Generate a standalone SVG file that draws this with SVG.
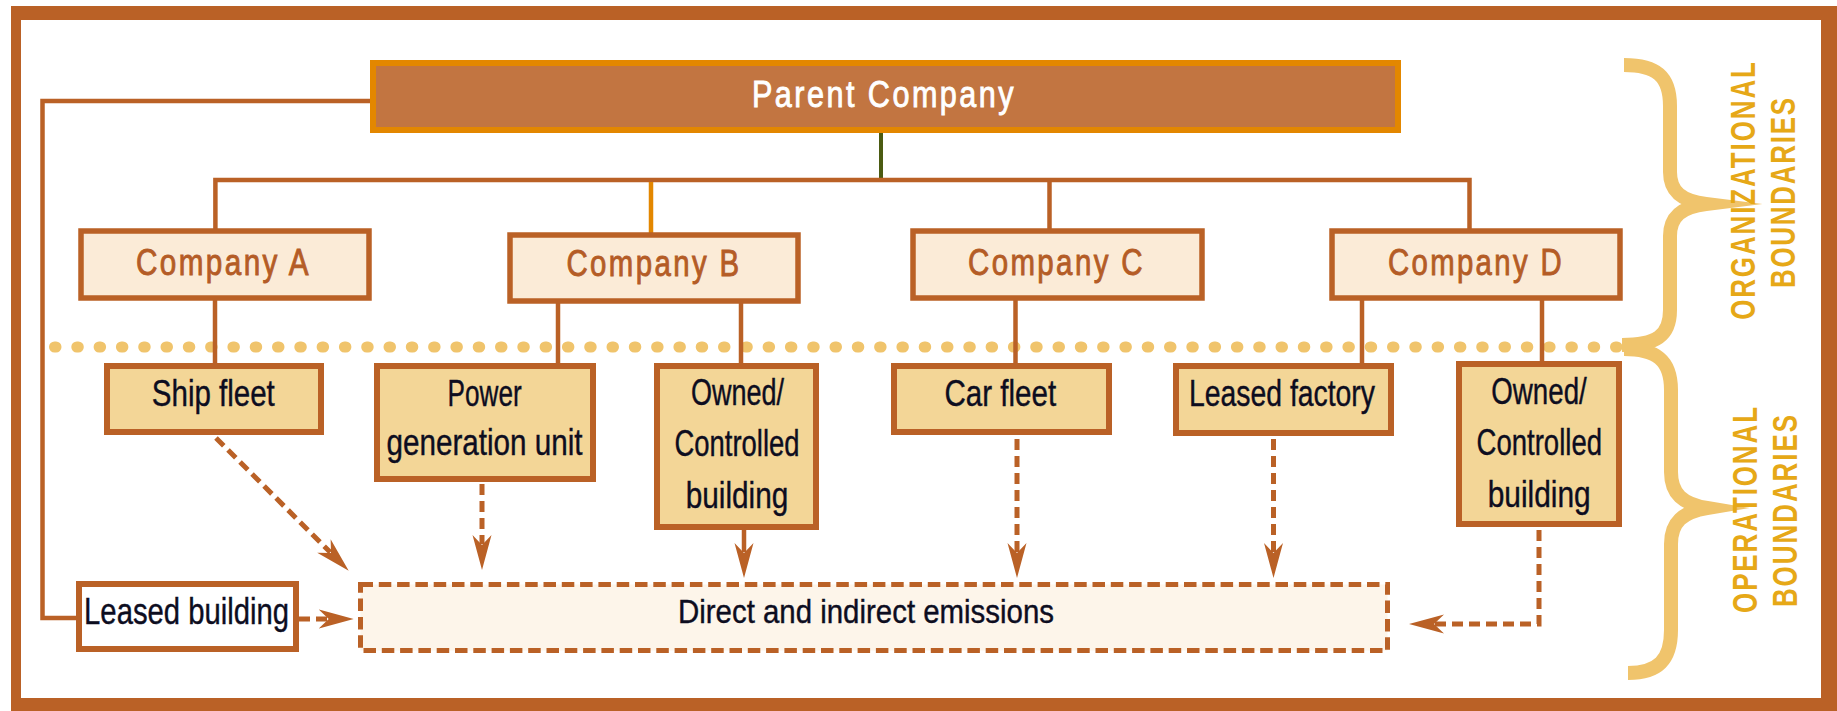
<svg xmlns="http://www.w3.org/2000/svg" width="1837" height="711" viewBox="0 0 1837 711">
<style>
.frame{fill:#BA6126}
.comp rect{fill:#FBEBD7;stroke:#BA6126;stroke-width:5.5}
.op rect{fill:#F3D697;stroke:#BA6126;stroke-width:6}
.ctext{font-family:"Liberation Sans Narrow","Liberation Sans",Arial,sans-serif;font-size:37px;fill:#B45C26;stroke:#B45C26;stroke-width:0.9;letter-spacing:3px;text-anchor:middle}
.ptext{font-family:"Liberation Sans Narrow","Liberation Sans",Arial,sans-serif;font-size:37px;fill:#FFFFFF;stroke:#FFFFFF;stroke-width:0.9;letter-spacing:3px;text-anchor:middle}
.btext{font-family:"Liberation Sans Narrow","Liberation Sans",Arial,sans-serif;font-size:36px;fill:#0D0D1F;stroke:#0D0D1F;stroke-width:0.4;text-anchor:middle}
.gtext{font-family:"Liberation Sans",Arial,sans-serif;font-size:36px;font-weight:bold;fill:#E6A817;text-anchor:middle}
.ln{fill:none;stroke:#BA6126;stroke-width:4.5}
.dash{fill:none;stroke:#BA6126;stroke-width:5;stroke-dasharray:11 6}
.brace{fill:none;stroke:#F0C46C;stroke-width:14;stroke-linejoin:miter;stroke-miterlimit:10}
</style>
<defs>
<marker id="ah" markerUnits="userSpaceOnUse" markerWidth="40" markerHeight="24" viewBox="0 0 40 24" refX="9" refY="12" orient="auto">
<path d="M0,2.5 L35,12 L0,21.5 L10,12 Z" fill="#BA6126"/>
</marker>
</defs>
<rect width="1837" height="711" fill="#FFFFFF"/>
<path class="frame" fill-rule="evenodd" d="M11,6 H1837 V711 H11 Z M21,20 V698 H1821 V20 Z"/>

<g id="boundary-line">
<line x1="54.5" y1="347" x2="1622" y2="347" stroke="#F0C46C" stroke-width="11" stroke-linecap="round" stroke-dasharray="1.5 20.8"/>
</g>

<g id="connectors">
<line x1="881" y1="133" x2="881" y2="182" stroke="#4B5B12" stroke-width="4"/>
<path class="ln" d="M215.4,231 V180 H1469.5 V231" stroke-width="5"/>
<line x1="651" y1="182" x2="651" y2="235" stroke="#E38700" stroke-width="4.5"/>
<line class="ln" x1="1049.5" y1="182" x2="1049.5" y2="231"/>
<path class="ln" d="M373,101 H42.5 V618 H79" stroke-width="5"/>
<line class="ln" x1="215" y1="300" x2="215" y2="366"/>
<line class="ln" x1="558" y1="303" x2="558" y2="366"/>
<line class="ln" x1="741" y1="303" x2="741" y2="366"/>
<line class="ln" x1="1015.5" y1="300" x2="1015.5" y2="366"/>
<line class="ln" x1="1362" y1="300" x2="1362" y2="366"/>
<line class="ln" x1="1542" y1="300" x2="1542" y2="364"/>
<line class="dash" x1="216" y1="438" x2="330.3" y2="552.3" marker-end="url(#ah)"/>
<line class="dash" x1="482" y1="484" x2="482" y2="544" marker-end="url(#ah)"/>
<line class="ln" x1="744" y1="530" x2="744" y2="552" stroke-width="5" marker-end="url(#ah)"/>
<line class="dash" x1="1017" y1="439" x2="1017" y2="552" marker-end="url(#ah)"/>
<line class="dash" x1="1273.5" y1="439" x2="1273.5" y2="552" marker-end="url(#ah)"/>
<path class="dash" d="M1539,530 V624 H1435" marker-end="url(#ah)"/>
<line class="dash" x1="299" y1="619" x2="327.7" y2="619" marker-end="url(#ah)"/>
</g>

<g id="parent">
<rect x="373" y="63" width="1025" height="67" fill="#C27541" stroke="#E38700" stroke-width="6"/>
<text x="884" y="107" class="ptext" textLength="264" lengthAdjust="spacingAndGlyphs">Parent Company</text>
</g>

<g id="company-a" class="comp">
<rect x="81" y="231" width="288" height="67"/>
<text x="223.5" y="275" class="ctext" textLength="175" lengthAdjust="spacingAndGlyphs">Company A</text>
</g>
<g id="company-b" class="comp">
<rect x="510" y="235" width="288" height="66"/>
<text x="654" y="276" class="ctext" textLength="175" lengthAdjust="spacingAndGlyphs">Company B</text>
</g>
<g id="company-c" class="comp">
<rect x="913" y="231" width="289" height="67"/>
<text x="1056.5" y="275" class="ctext" textLength="177" lengthAdjust="spacingAndGlyphs">Company C</text>
</g>
<g id="company-d" class="comp">
<rect x="1332" y="231" width="288" height="67"/>
<text x="1476" y="275" class="ctext" textLength="176" lengthAdjust="spacingAndGlyphs">Company D</text>
</g>

<g id="ship-fleet" class="op">
<rect x="107" y="366" width="214" height="66"/>
<text x="213.3" y="406" class="btext" textLength="123" lengthAdjust="spacingAndGlyphs">Ship fleet</text>
</g>
<g id="power-unit" class="op">
<rect x="377" y="366" width="216" height="113"/>
<text x="484.6" y="406" class="btext" textLength="74" lengthAdjust="spacingAndGlyphs">Power</text>
<text x="484.5" y="455" class="btext" textLength="196" lengthAdjust="spacingAndGlyphs">generation unit</text>
</g>
<g id="owned-b" class="op">
<rect x="657" y="366" width="159" height="161"/>
<text x="737.5" y="405" class="btext" textLength="93" lengthAdjust="spacingAndGlyphs">Owned/</text>
<text x="737" y="456" class="btext" textLength="125" lengthAdjust="spacingAndGlyphs">Controlled</text>
<text x="737" y="508" class="btext" textLength="102.7" lengthAdjust="spacingAndGlyphs">building</text>
</g>
<g id="car-fleet" class="op">
<rect x="894" y="366" width="215" height="66"/>
<text x="1000.3" y="406" class="btext" textLength="111.6" lengthAdjust="spacingAndGlyphs">Car fleet</text>
</g>
<g id="leased-factory" class="op">
<rect x="1176" y="366" width="215" height="67"/>
<text x="1282" y="406" class="btext" textLength="186" lengthAdjust="spacingAndGlyphs">Leased factory</text>
</g>
<g id="owned-d" class="op">
<rect x="1459" y="364" width="160" height="160"/>
<text x="1539" y="404" class="btext" textLength="95.5" lengthAdjust="spacingAndGlyphs">Owned/</text>
<text x="1539.3" y="455" class="btext" textLength="125.4" lengthAdjust="spacingAndGlyphs">Controlled</text>
<text x="1539.2" y="506.7" class="btext" textLength="103" lengthAdjust="spacingAndGlyphs">building</text>
</g>
<g id="leased-building">
<rect x="79" y="584" width="217" height="65" fill="#FFFFFF" stroke="#BA6126" stroke-width="6"/>
<text x="186.6" y="624" class="btext" textLength="205" lengthAdjust="spacingAndGlyphs">Leased building</text>
</g>
<g id="emissions">
<rect x="360.5" y="584.5" width="1027" height="66" fill="#FDF5EA" stroke="#BA6126" stroke-width="5" stroke-dasharray="12.5 5.8"/>
<text x="866" y="623" class="btext" style="font-size:33px" textLength="376" lengthAdjust="spacingAndGlyphs">Direct and indirect emissions</text>
</g>

<g id="org-boundary">
<path class="brace" d="M1624,65 C1656,65 1670,76 1670,106 L1670,172 C1670,192 1682,201 1706,204 C1682,207 1670,216 1670,236 L1670,310 C1670,336 1656,345 1622,345"/>
<text class="gtext" transform="translate(1755,191) rotate(-90) scale(0.72,1)" textLength="358" lengthAdjust="spacing">ORGANIZATIONAL</text>
<text class="gtext" transform="translate(1795,193) rotate(-90) scale(0.72,1)" textLength="264" lengthAdjust="spacing">BOUNDARIES</text>
</g>
<g id="op-boundary">
<path class="brace" d="M1624,349 C1656,349 1671,360 1671,390 L1671,472 C1671,494 1683,504 1707,508 C1683,512 1671,522 1671,544 L1671,630 C1671,660 1658,673 1628,673"/>
<text class="gtext" transform="translate(1757,510) rotate(-90) scale(0.72,1)" textLength="286" lengthAdjust="spacing">OPERATIONAL</text>
<text class="gtext" transform="translate(1796.6,511) rotate(-90) scale(0.72,1)" textLength="267" lengthAdjust="spacing">BOUNDARIES</text>
</g>
</svg>
